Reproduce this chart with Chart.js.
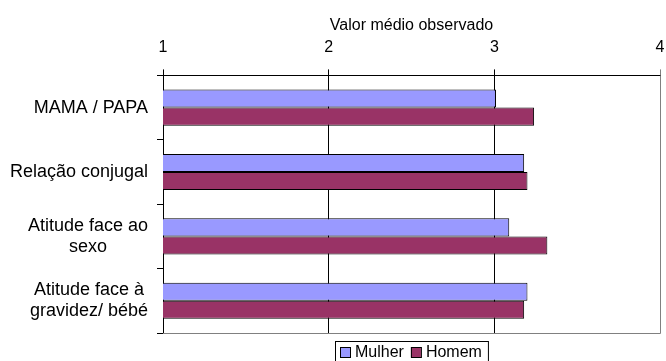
<!DOCTYPE html>
<html>
<head>
<meta charset="utf-8">
<script src="https://cdn.jsdelivr.net/npm/chart.js@4.4.0/dist/chart.umd.min.js"></script>
<style>
html, body { margin: 0; padding: 0; background: #fff; }
canvas { display: block; }
</style>
</head>
<body>
<canvas id="myChart" width="666" height="361"></canvas>
<script>
var categories = [["MAMA / PAPA"], ["Relação conjugal"], ["Atitude face ao", "sexo"], ["Atitude face à", "gravidez/ bébé"]];
var mulher = [3.01, 3.18, 3.09, 3.20];
var homem = [3.24, 3.20, 3.32, 3.18];
var xTicks = [1, 2, 3, 4];
var axisTitle = "Valor médio observado";
var seriesNames = ["Mulher", "Homem"];
var seriesColors = ["#9999FF", "#993366"];

var FONT = "'Liberation Sans', Arial, sans-serif";

// category labels: lines centred inside each label, label block right aligned
var yLabelsPlugin = {
  id: 'yLabels',
  afterDraw: function(chart) {
    var ctx = chart.ctx;
    var yScale = chart.scales.y;
    var right = yScale.right - 15;
    ctx.save();
    ctx.font = '18px ' + FONT;
    ctx.fillStyle = '#000';
    ctx.textAlign = 'center';
    ctx.textBaseline = 'middle';
    categories.forEach(function(lines, i) {
      var widest = 0;
      lines.forEach(function(l) { widest = Math.max(widest, ctx.measureText(l).width); });
      var cx = right - widest / 2;
      var cy = yScale.getPixelForValue(i);
      lines.forEach(function(l, j) {
        ctx.fillText(l, cx, cy + (j - (lines.length - 1) / 2) * 21);
      });
    });
    ctx.restore();
  }
};

// gray right/bottom frame + boxed legend under the plot
var framePlugin = {
  id: 'frame',
  afterDraw: function(chart) {
    var ctx = chart.ctx;
    var a = chart.chartArea;
    ctx.save();
    ctx.strokeStyle = '#808080';
    ctx.lineWidth = 1;
    ctx.beginPath();
    ctx.moveTo(a.left, Math.round(a.bottom) + 0.5);
    ctx.lineTo(Math.round(a.right) + 0.5, Math.round(a.bottom) + 0.5);
    ctx.lineTo(Math.round(a.right) + 0.5, a.top);
    ctx.stroke();

    // legend
    ctx.font = '16px ' + FONT;
    var sq = 10, gapText = 4, gapItem = 7, padL = 5, padR = 6;
    var widths = seriesNames.map(function(n) { return ctx.measureText(n).width; });
    var total = padL + padR;
    widths.forEach(function(w, i) { total += sq + 1 + gapText + w + (i > 0 ? gapItem : 0); });
    var left = Math.round((a.left + a.right) / 2 - total / 2);
    var top = Math.round(a.bottom) + 8;
    var cy = top + 11;
    ctx.strokeStyle = '#000';
    ctx.strokeRect(left + 0.5, top + 0.5, total, 40);
    var x = left + padL;
    ctx.textBaseline = 'middle';
    ctx.textAlign = 'left';
    seriesNames.forEach(function(n, i) {
      if (i > 0) x += gapItem;
      ctx.fillStyle = seriesColors[i];
      ctx.fillRect(x, cy - 5, sq, sq);
      ctx.strokeStyle = '#000';
      ctx.strokeRect(x + 0.5, cy - 5 + 0.5, sq, sq);
      x += sq + 1 + gapText;
      ctx.fillStyle = '#000';
      ctx.fillText(n, x, cy + 1);
      x += widths[i];
    });
    ctx.restore();
  }
};

var ctx = document.getElementById('myChart').getContext('2d');
var chart = new Chart(ctx, {
  type: 'bar',
  data: {
    labels: categories,
    datasets: [{
      label: seriesNames[0],
      data: mulher,
      backgroundColor: seriesColors[0],
      borderColor: '#000',
      borderWidth: 1
    }, {
      label: seriesNames[1],
      data: homem,
      backgroundColor: seriesColors[1],
      borderColor: '#000',
      borderWidth: 1
    }]
  },
  options: {
    responsive: false,
    animation: false,
    indexAxis: 'y',
    categoryPercentage: 0.56,
    barPercentage: 1.0,
    layout: { padding: { top: 16, right: 6, left: 0, bottom: 28 } },
    scales: {
      x: {
        type: 'linear',
        position: 'top',
        min: 1,
        max: 4,
        afterBuildTicks: function(scale) {
          scale.ticks = xTicks.map(function(v) { return { value: v }; });
        },
        afterFit: function(scale) { scale.paddingRight = 0; scale.paddingLeft = 0; },
        ticks: { color: '#000', font: { family: FONT, size: 16 }, padding: 12 },
        grid: {
          color: function(c) { return c.tick && c.tick.value === 4 ? '#808080' : '#000'; },
          tickLength: 6
        },
        border: { color: '#000' },
        title: {
          display: true,
          text: axisTitle,
          color: '#000',
          font: { family: FONT, size: 16 },
          padding: { top: 0, bottom: -9 }
        }
      },
      y: {
        ticks: { color: 'rgba(0,0,0,0)', font: { family: FONT, size: 16 } },
        grid: { drawOnChartArea: false, tickLength: 6, color: '#000', offset: true },
        border: { color: '#000' },
        afterFit: function(scale) { scale.width = 163; }
      }
    },
    plugins: {
      legend: { display: false },
      tooltip: { enabled: false }
    }
  },
  plugins: [yLabelsPlugin, framePlugin]
});
</script>
</body>
</html>
